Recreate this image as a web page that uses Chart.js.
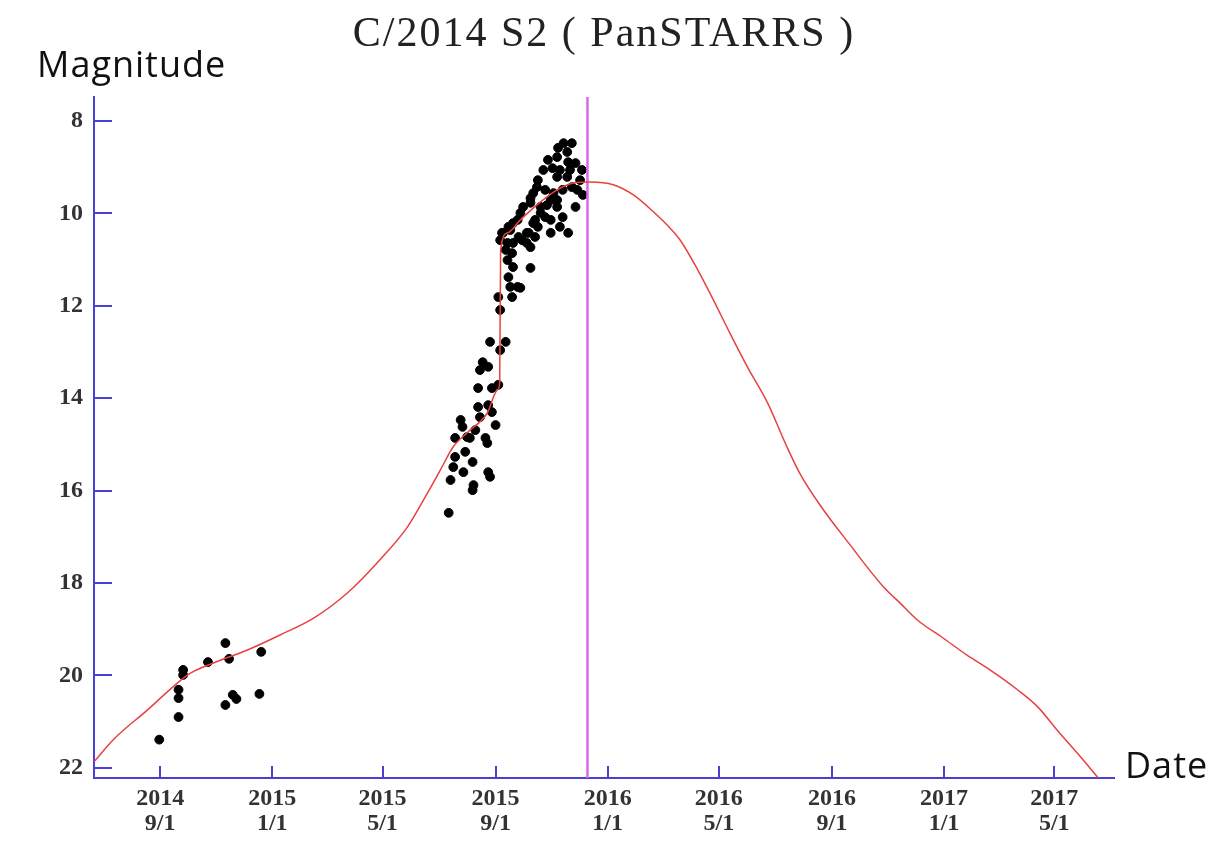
<!DOCTYPE html>
<html>
<head>
<meta charset="utf-8">
<script src="https://cdn.jsdelivr.net/npm/chart.js@4.4.1/dist/chart.umd.min.js"></script>
<style>
  body { margin: 0; background: #fff; }
  #wrap { width: 1225px; height: 864px; }
</style>
</head>
<body>
<div id="wrap"><canvas id="chart" width="1225" height="864"></canvas></div>
<script>
// x values are days counted from 2014-01-01
let tickDays = [243, 365, 485, 608, 730, 851, 974, 1096, 1216]
let tickLabels = [
    ['2014', '9/1'], ['2015', '1/1'], ['2015', '5/1'], ['2015', '9/1'],
    ['2016', '1/1'], ['2016', '5/1'], ['2016', '9/1'], ['2017', '1/1'], ['2017', '5/1']
]
let magTicks = [8, 10, 12, 14, 16, 18, 20, 22]

// fitted light curve (red)
let curveDay = [171, 192, 229, 262, 276, 301, 338, 374, 410, 447, 482, 512, 534, 548, 562, 578,
    599, 610, 612.5, 613.5, 621, 635, 657, 675, 693, 711, 736, 758, 780, 798, 809, 828, 845, 863,
    882, 904, 925, 940, 961, 994, 1030, 1048, 1067, 1095, 1121, 1146, 1176, 1198, 1219, 1241, 1264]
let curveMag = [21.87, 21.39, 20.75, 20.16, 19.95, 19.73, 19.45, 19.12, 18.76, 18.21, 17.50, 16.79,
    16.05, 15.55, 15.05, 14.73, 14.32, 13.82, 13.67, 10.79, 10.42, 10.14, 9.75, 9.49, 9.34, 9.32,
    9.38, 9.60, 9.97, 10.32, 10.58, 11.22, 11.87, 12.59, 13.32, 14.10, 15.05, 15.66, 16.31, 17.18,
    18.08, 18.43, 18.80, 19.19, 19.56, 19.88, 20.31, 20.68, 21.18, 21.68, 22.22]

// observations (black dots)
let obsDay = [242, 263, 263, 263, 268, 268, 295, 314, 318, 314, 322, 326, 353, 351,
    557, 559, 562, 564, 564, 570, 572, 573, 575, 577, 580, 583, 583, 584, 586, 589, 589, 591,
    597, 599, 600, 600, 602, 604, 604, 608, 611, 594, 591, 600, 602, 619, 613,
    613, 611, 626, 632, 624, 622, 635, 646, 627, 621, 626, 646, 621, 633, 651, 616, 642, 668,
    687, 622, 654, 678, 632, 651, 662, 681, 635, 638, 657, 664, 675, 695, 668, 646, 649, 662,
    671, 681, 691, 697, 653, 654, 675, 686, 700, 660, 670, 678, 689, 702, 665, 675, 687, 695,
    676, 686, 682, 691, 619, 613, 615, 627, 637, 644, 627, 646, 675, 624, 657, 668, 642, 649, 703]
let obsMag = [21.39, 20.90, 20.49, 20.31, 19.99, 19.88, 19.71, 19.30, 19.64, 20.64, 20.42, 20.51, 19.49, 20.40,
    16.48, 15.77, 15.49, 15.27, 14.86, 14.47, 14.62, 15.60, 15.16, 14.84, 14.86, 15.38, 15.99, 15.88, 14.69, 13.78, 14.19, 14.41,
    14.86, 14.97, 14.15, 15.60, 15.70, 13.78, 14.30, 14.58, 13.71, 13.22, 13.39, 13.32, 12.78, 12.78, 12.96,
    12.09, 11.81, 11.81, 11.59, 11.59, 11.38, 11.61, 11.18, 11.16, 11.01, 10.86, 10.73, 10.64, 10.51, 10.51, 10.42, 10.42, 10.42,
    10.42, 10.29, 10.29, 10.29, 10.14, 10.14, 10.08, 10.08, 9.99, 9.86, 9.86, 9.82, 9.86, 9.86, 9.71, 9.67, 9.56, 9.49,
    9.56, 9.49, 9.43, 9.49, 9.43, 9.28, 9.21, 9.21, 9.28, 9.06, 9.02, 9.06, 9.06, 9.06, 8.84, 8.78, 8.89, 8.91,
    8.58, 8.67, 8.48, 8.48, 10.79, 10.58, 10.42, 10.21, 10.58, 10.42, 10.64, 9.77, 9.71, 10.36, 9.99, 10.14, 10.64, 10.21, 9.60]

// perihelion marker
let periDay = 708

let xMin = 171, xMax = 1281
let yMin = 7.48, yMax = 22.22

const AXIS = '#4a3fd6'

function pairs(xs, ys) {
    return xs.map((x, i) => ({ x: x, y: ys[i] }))
}

const decor = {
    id: 'decor',
    afterDraw(chart) {
        const ctx = chart.ctx
        const xs = chart.scales.x
        const ys = chart.scales.y
        const area = chart.chartArea
        ctx.save()
        ctx.strokeStyle = AXIS
        ctx.lineWidth = 2
        ctx.beginPath()
        magTicks.forEach(v => {
            let py = Math.round(ys.getPixelForValue(v))
            ctx.moveTo(area.left, py)
            ctx.lineTo(area.left + 18, py)
        })
        tickDays.forEach(v => {
            let px = Math.round(xs.getPixelForValue(v))
            ctx.moveTo(px, area.bottom)
            ctx.lineTo(px, area.bottom - 12)
        })
        ctx.stroke()

        ctx.fillStyle = '#222'
        ctx.font = '42px "Liberation Serif"'
        ctx.letterSpacing = '2px'
        ctx.textAlign = 'center'
        ctx.textBaseline = 'alphabetic'
        ctx.fillText('C/2014 S2 ( PanSTARRS )', 604, 46)

        ctx.fillStyle = '#111'
        ctx.font = '36px "Open Sans"'
        ctx.letterSpacing = '1px'
        ctx.textAlign = 'left'
        ctx.fillText('Magnitude', 37, 77)
        ctx.fillText('Date', 1125, 778)
        ctx.restore()
    }
}

new Chart(document.getElementById('chart'), {
    type: 'scatter',
    data: {
        datasets: [
            {
                label: 'curve',
                data: pairs(curveDay, curveMag),
                showLine: true,
                borderColor: '#e8413f',
                borderWidth: 1.5,
                pointRadius: 0,
                cubicInterpolationMode: 'monotone'
            },
            {
                label: 'perihelion',
                data: [{ x: periDay, y: yMin }, { x: periDay, y: yMax }],
                showLine: true,
                borderColor: '#d76ae6',
                borderWidth: 2.5,
                pointRadius: 0
            },
            {
                label: 'observations',
                data: pairs(obsDay, obsMag),
                backgroundColor: '#000',
                borderColor: '#000',
                pointRadius: 4.4,
                pointStyle: 'circle'
            }
        ]
    },
    options: {
        responsive: false,
        animation: false,
        devicePixelRatio: 1,
        layout: { padding: { top: 97, right: 111, left: 0, bottom: 0 } },
        plugins: {
            legend: { display: false },
            tooltip: { enabled: false }
        },
        scales: {
            x: {
                type: 'linear',
                min: xMin,
                max: xMax,
                afterBuildTicks: s => { s.ticks = tickDays.map(v => ({ value: v })) },
                afterFit: s => { s.height = 86 },
                grid: { display: false, drawTicks: false },
                border: { display: true, color: AXIS, width: 2 },
                ticks: {
                    autoSkip: false,
                    maxRotation: 0,
                    padding: 8,
                    color: '#333',
                    font: { family: '"Liberation Serif"', size: 24, weight: 'bold', lineHeight: 1.05 },
                    callback: (v, i) => tickLabels[i]
                }
            },
            y: {
                type: 'linear',
                reverse: true,
                min: yMin,
                max: yMax,
                afterBuildTicks: s => { s.ticks = magTicks.map(v => ({ value: v })) },
                afterFit: s => { s.width = 94 },
                grid: { display: false, drawTicks: false },
                border: { display: true, color: AXIS, width: 2 },
                ticks: {
                    padding: 11,
                    color: '#333',
                    font: { family: '"Liberation Serif"', size: 24, weight: 'bold' },
                    callback: v => v
                }
            }
        }
    },
    plugins: [decor]
})
</script>
</body>
</html>
